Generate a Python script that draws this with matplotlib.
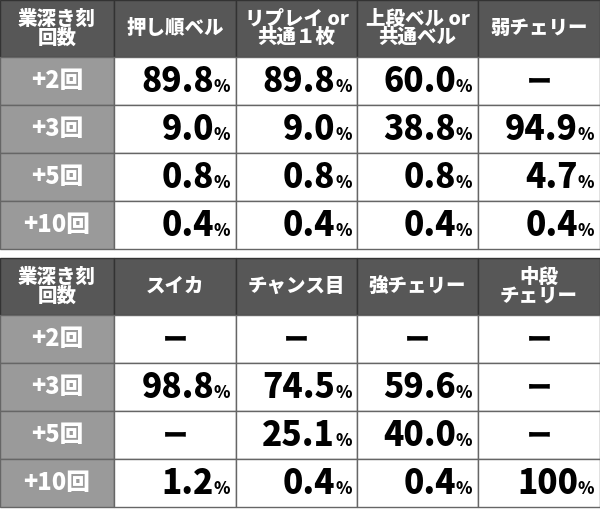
import matplotlib.pyplot as plt
from matplotlib.patches import Rectangle

plt.rcParams['font.family'] = ['Noto Sans CJK JP', 'DejaVu Sans']

row_labels = ['+2回', '+3回', '+5回', '+10回']
corner = '業深き刻\n回数'

cols_top = ['押し順ベル', 'リプレイ or\n共通１枚', '上段ベル or\n共通ベル', '弱チェリー']
vals_top = [
    ['89.8', '89.8', '60.0', None],
    ['9.0', '9.0', '38.8', '94.9'],
    ['0.8', '0.8', '0.8', '4.7'],
    ['0.4', '0.4', '0.4', '0.4'],
]

cols_bot = ['スイカ', 'チャンス目', '強チェリー', '中段\nチェリー']
vals_bot = [
    [None, None, None, None],
    ['98.8', '74.5', '59.6', None],
    [None, '25.1', '40.0', None],
    ['1.2', '0.4', '0.4', '100'],
]

col_x = [0, 114, 236, 357, 478, 600]

fig = plt.figure(figsize=(6, 5.12), dpi=100)
ax = fig.add_axes([0, 0, 1, 1])
ax.set_xlim(0, 600)
ax.set_ylim(512, 0)
ax.axis('off')


def draw_table(y0, cols, vals):
    head_h = 57
    row_h = 48
    for c in range(5):
        x0, x1 = col_x[c], col_x[c + 1]
        ax.add_patch(Rectangle((x0, y0), x1 - x0, head_h, fc='#575757', ec='#333333', lw=1))
        text = corner if c == 0 else cols[c - 1]
        ax.text((x0 + x1) / 2, y0 + head_h / 2, text, ha='center', va='center',
                color='white', fontsize=14, fontweight='black', linespacing=0.95)
    for r in range(4):
        ry = y0 + head_h + r * row_h
        ax.add_patch(Rectangle((0, ry), col_x[1], row_h, fc='#9a9a9a', ec='#666666', lw=1))
        ax.text(col_x[1] / 2, ry + row_h / 2, row_labels[r], ha='center', va='center',
                color='white', fontsize=17, fontweight='black')
        for c in range(4):
            x0, x1 = col_x[c + 1], col_x[c + 2]
            ax.add_patch(Rectangle((x0, ry), x1 - x0, row_h, fc='white', ec='#666666', lw=1))
            v = vals[r][c]
            if v is None:
                ax.text((x0 + x1) / 2, ry + row_h / 2, 'ー', ha='center', va='center',
                        color='black', fontsize=18, fontweight='black')
            else:
                ax.text(x1 - 22, ry + row_h / 2 + 1, v, ha='right', va='center',
                        color='black', fontsize=24, fontweight='black')
                ax.text(x1 - 22, ry + row_h / 2 + 6, '%', ha='left', va='center',
                        color='black', fontsize=12, fontweight='black')


draw_table(0, cols_top, vals_top)
draw_table(258, cols_bot, vals_bot)

fig.savefig('out.png', dpi=100)
